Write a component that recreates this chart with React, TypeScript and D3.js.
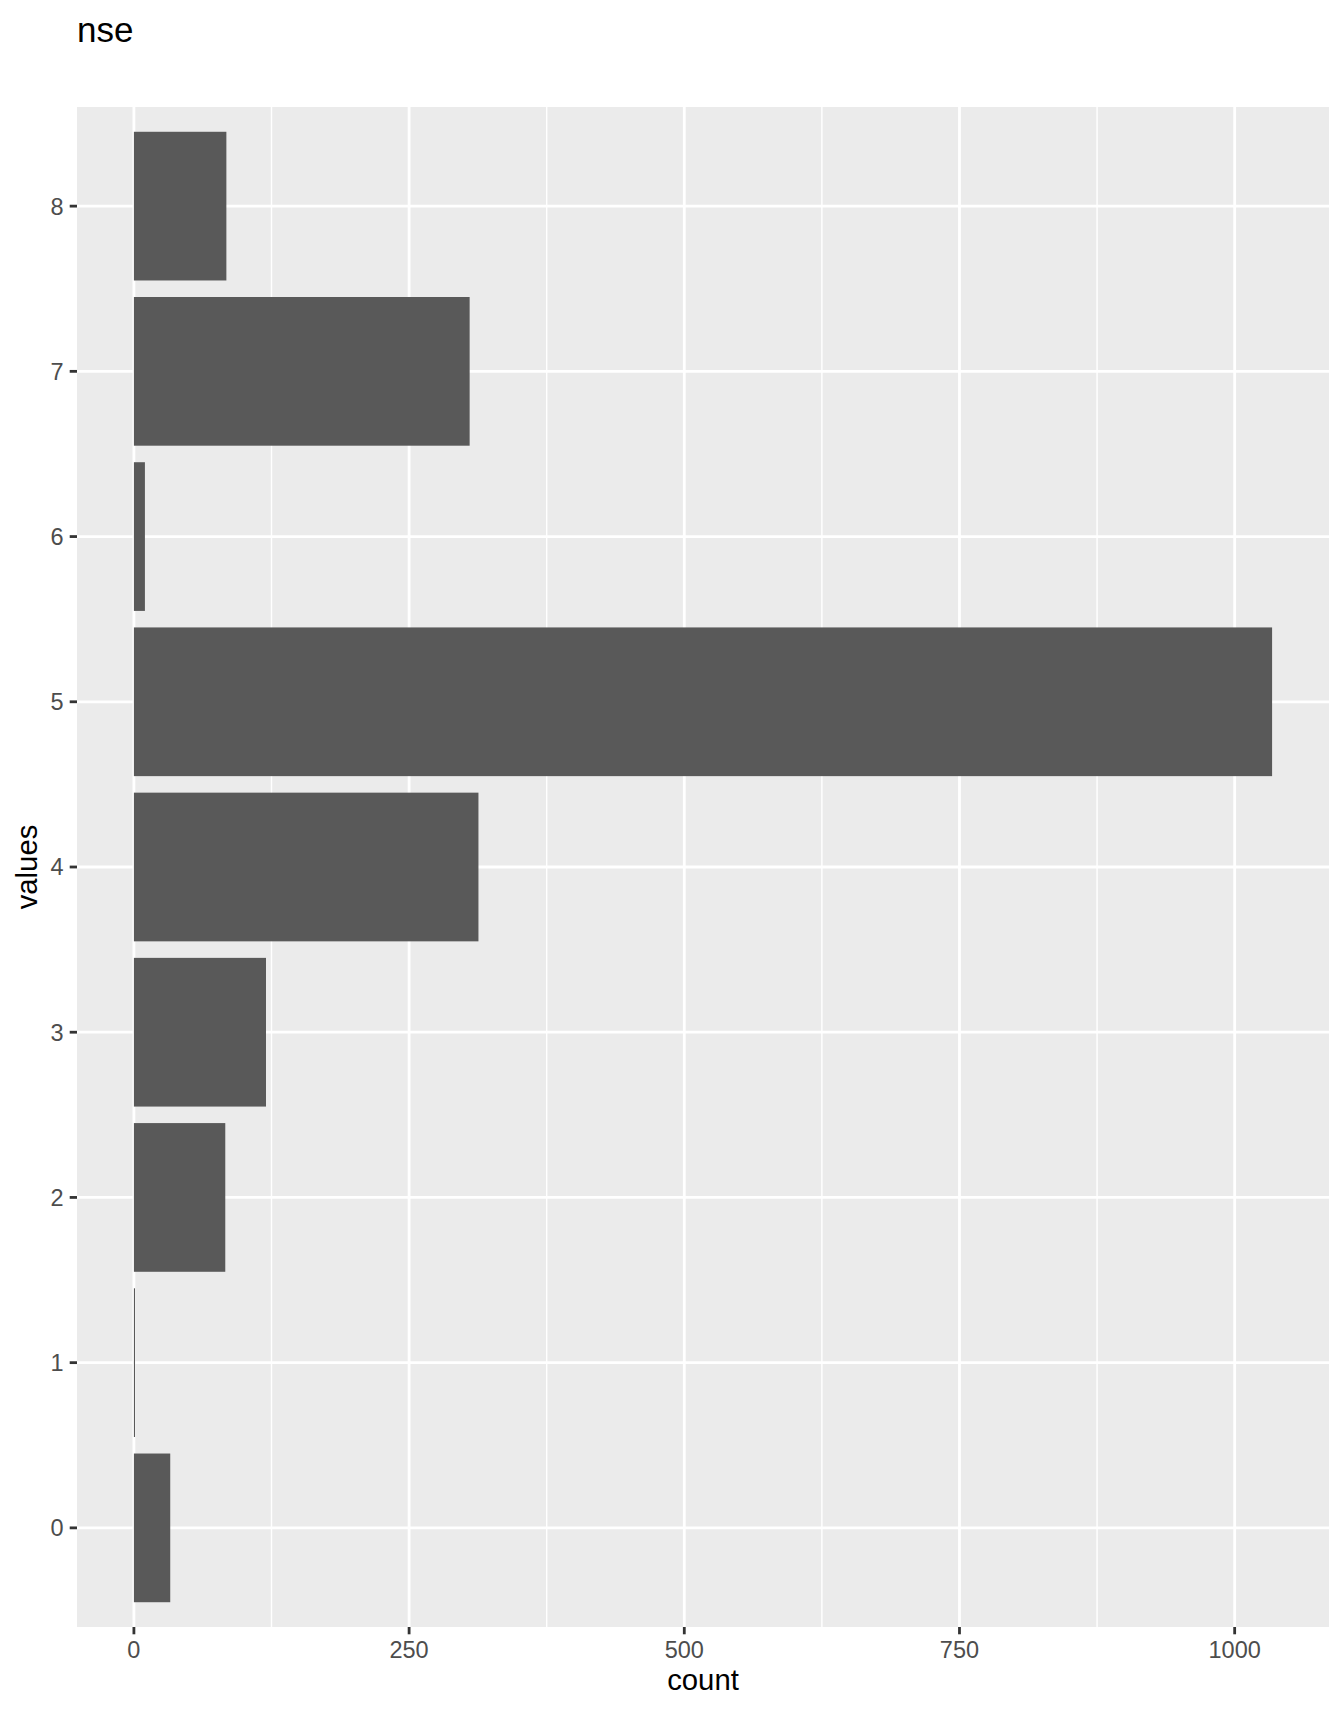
import React from "react";
import * as d3 from "d3";

const categories: string[] = ["0", "1", "2", "3", "4", "5", "6", "7", "8"];
const counts: number[] = [33, 1, 83, 120, 313, 1034, 10, 305, 84];
const xTicks: number[] = [0, 250, 500, 750, 1000];
const xMinor: number[] = [125, 375, 625, 875];
const titleText = "nse";
const xLabel = "count";
const yLabel = "values";

const W = 1344;
const H = 1713;
const panel = { left: 77, right: 1329, top: 107, bottom: 1627 };
const FONT = "'Liberation Sans', Arial, Helvetica, sans-serif";

export default function App() {
  const maxV = d3.max(counts) as number;
  const pad = maxV * 0.05;
  const x = d3.scaleLinear().domain([-pad, maxV + pad]).range([panel.left, panel.right]);
  const y = d3
    .scaleBand<string>()
    .domain([...categories].reverse())
    .range([panel.top, panel.bottom])
    .paddingInner(0.1)
    .paddingOuter(0.15);
  const bw = y.bandwidth();
  const step = y.step();
  const center = (c: string) => (y(c) as number) + bw / 2;

  return (
    <svg
      width={W}
      height={H}
      style={{ position: "absolute", left: 0, top: 0, display: "block", background: "#fff" }}
      fontFamily={FONT}
    >
      <rect x={0} y={0} width={W} height={H} fill="#ffffff" />
      <text x={panel.left} y={42} fontSize={35} fill="#000">
        {titleText}
      </text>
      <rect
        x={panel.left}
        y={panel.top}
        width={panel.right - panel.left}
        height={panel.bottom - panel.top}
        fill="#EBEBEB"
      />
      {xMinor.map((v) => (
        <line key={"mn" + v} x1={x(v)} x2={x(v)} y1={panel.top} y2={panel.bottom} stroke="#fff" strokeWidth={1.4} />
      ))}
      {xTicks.map((v) => (
        <line key={"mj" + v} x1={x(v)} x2={x(v)} y1={panel.top} y2={panel.bottom} stroke="#fff" strokeWidth={2.8} />
      ))}
      {categories.map((c) => (
        <line key={"hy" + c} x1={panel.left} x2={panel.right} y1={center(c)} y2={center(c)} stroke="#fff" strokeWidth={2.8} />
      ))}
      {categories.map((c, i) => (
        <rect
          key={"b" + c}
          x={x(0)}
          y={y(c) as number}
          width={x(counts[i]) - x(0)}
          height={bw}
          fill="#595959"
        />
      ))}
      {xTicks.map((v) => (
        <g key={"xt" + v}>
          <line x1={x(v)} x2={x(v)} y1={panel.bottom} y2={panel.bottom + 7.3} stroke="#333333" strokeWidth={2.8} />
          <text x={x(v)} y={1657.5} fontSize={23.5} fill="#4D4D4D" textAnchor="middle">
            {v}
          </text>
        </g>
      ))}
      {categories.map((c) => (
        <g key={"yt" + c}>
          <line x1={panel.left - 7.3} x2={panel.left} y1={center(c)} y2={center(c)} stroke="#333333" strokeWidth={2.8} />
          <text x={63.5} y={center(c)} dy="0.36em" fontSize={23.5} fill="#4D4D4D" textAnchor="end">
            {c}
          </text>
        </g>
      ))}
      <text x={(panel.left + panel.right) / 2} y={1690} fontSize={29.3} fill="#000" textAnchor="middle">
        {xLabel}
      </text>
      <text
        transform={`translate(37,${(panel.top + panel.bottom) / 2}) rotate(-90)`}
        fontSize={29.3}
        fill="#000"
        textAnchor="middle"
      >
        {yLabel}
      </text>
      {step > 0 ? null : null}
    </svg>
  );
}
